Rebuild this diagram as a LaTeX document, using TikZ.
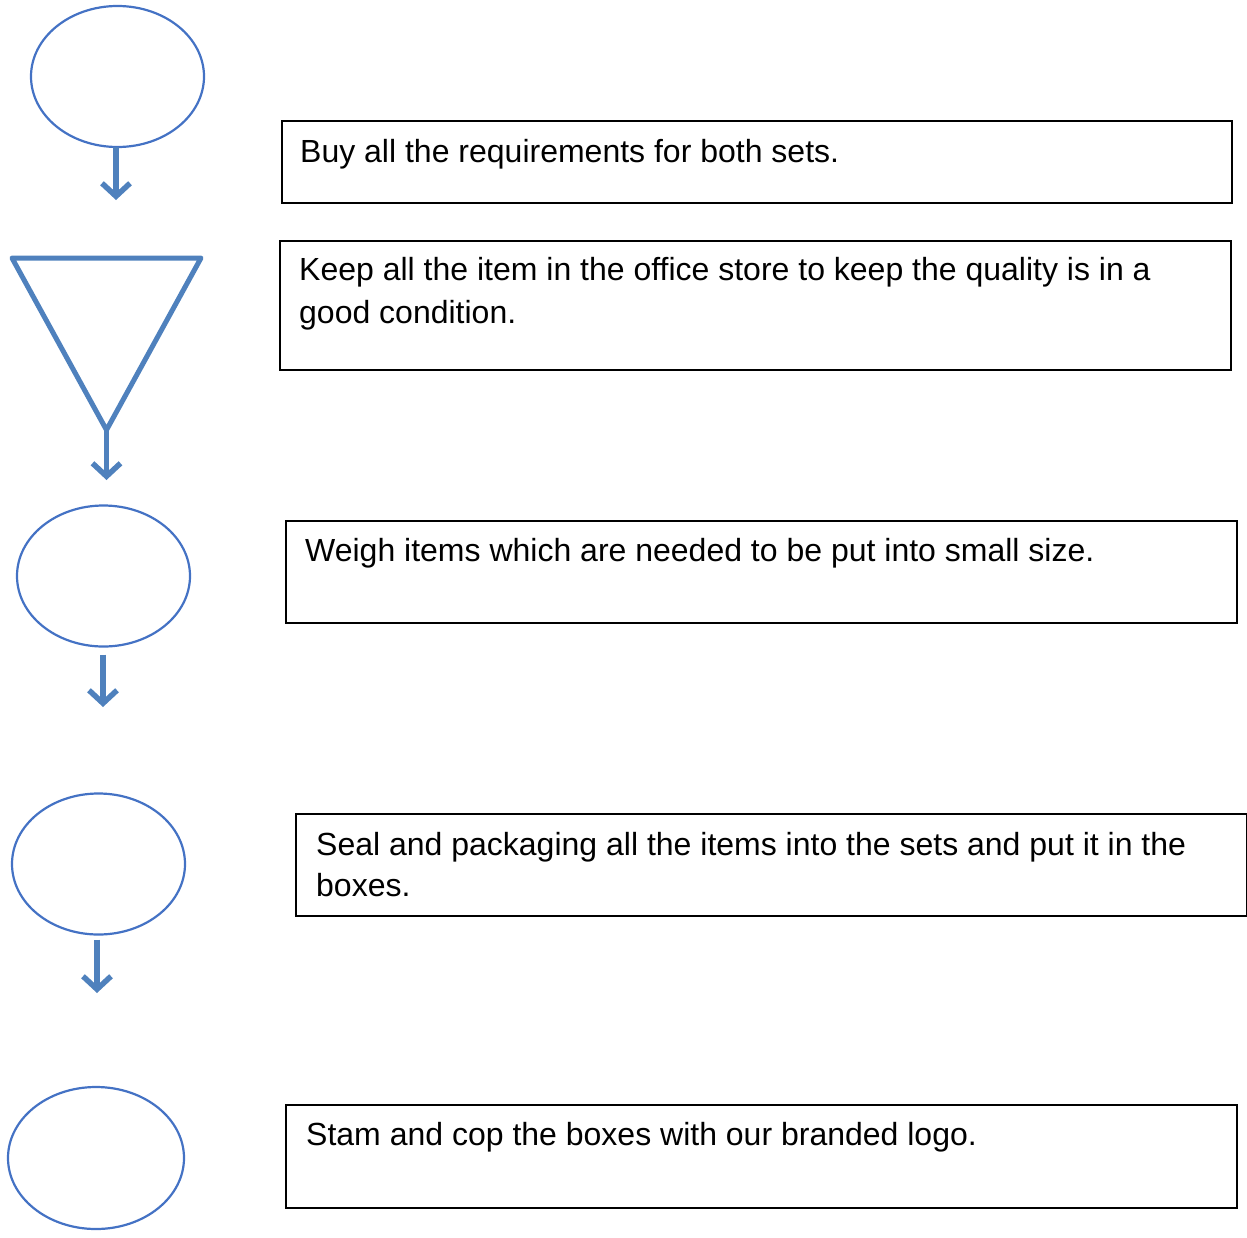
\documentclass[tikz,border=0pt]{standalone}
\usepackage{fontspec}
\setmainfont{Liberation Sans}
\usetikzlibrary{shapes.geometric,arrows.meta}
\definecolor{ovalblue}{RGB}{68,114,196}
\definecolor{arrowblue}{RGB}{79,129,189}

\begin{document}
\begin{tikzpicture}[x=1pt, y=-1pt,
    oval/.style={ellipse, draw=ovalblue, line width=2.2pt, minimum width=173pt, minimum height=141pt, inner sep=0pt, outer sep=0pt},
    flowarrow/.style={draw=arrowblue, line width=5.5pt, -{Straight Barb[length=13pt, width=28pt, line width=5.5pt]}},
    stepbox/.style={rectangle, draw=black, line width=1.8pt, inner sep=0pt, anchor=north west},
    steptext/.style={anchor=base west, inner sep=0pt, align=left, font=\fontsize{32}{43}\selectfont}]
    \useasboundingbox (0,0) rectangle (1247,1237);

    % symbols on the left
    \node[oval] (buy) at (117.5,76.5) {};
    \coordinate (tl) at (12,258);
    \coordinate (tr) at (201,258);
    \coordinate (funnel) at (106.5,430);
    \draw[draw=arrowblue, line width=5pt, line join=round] (tl) -- (tr) -- (funnel) -- cycle;
    \node[oval] (weigh) at (103.5,576) {};
    \node[oval] (seal) at (98.5,864) {};
    \node[oval, minimum width=176pt, minimum height=142pt] (stamp) at (96,1158) {};

    \coordinate (end1) at (116,200);
    \coordinate (end2) at (106.5,480);
    \coordinate (end3) at (103,707);
    \coordinate (end4) at (97,993);
    \draw[flowarrow] (buy.south -| end1) -- (end1);
    \draw[flowarrow] (funnel) -- (end2);
    \draw[flowarrow, shorten <=8pt] (weigh.south -| end3) -- (end3);
    \draw[flowarrow, shorten <=5pt] (seal.south -| end4) -- (end4);

    % boxes
    \node[stepbox, minimum width=950pt, minimum height=82pt] (box1) at (281,120) {};
    \node[stepbox, minimum width=951pt, minimum height=129pt] (box2) at (279,240) {};
    \node[stepbox, minimum width=951pt, minimum height=102pt] (box3) at (285,520) {};
    \node[stepbox, minimum width=951pt, minimum height=102pt] (box4) at (295,813) {};
    \node[stepbox, minimum width=951pt, minimum height=103pt] (box5) at (285,1104) {};

    % texts (base of a two-line text is its last line)
    \node[steptext] (text1) at (300,162) {Buy all the requirements for both sets.};
    \node[steptext] (text2) at (299,323) {Keep all the item in the office store to keep the quality is in a\\good condition.};
    \node[steptext] (text3) at (305,561.5) {Weigh items which are needed to be put into small size.};
    \node[steptext, font=\fontsize{32}{40.7}\selectfont] (text4) at (316,896.5) {Seal and packaging all the items into the sets and put it in the\\boxes.};
    \node[steptext] (text5) at (306,1145) {Stam and cop the boxes with our branded logo.};
\end{tikzpicture}
\end{document}
